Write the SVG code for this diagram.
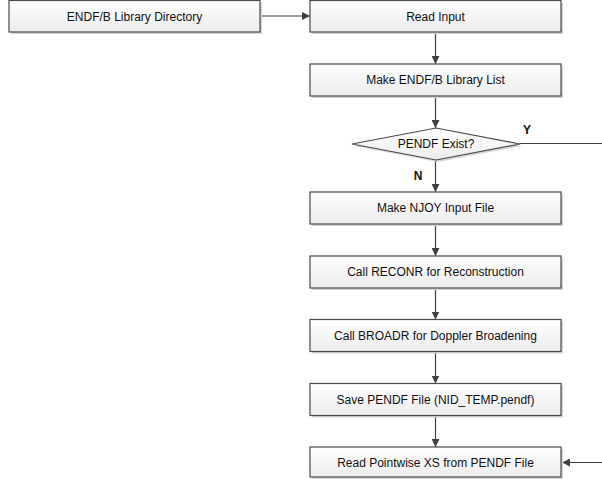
<svg xmlns="http://www.w3.org/2000/svg" width="602" height="479" viewBox="0 0 602 479">
<defs>
<linearGradient id="g" x1="0" y1="0" x2="0" y2="1">
<stop offset="0" stop-color="#ffffff"/>
<stop offset="1" stop-color="#ececec"/>
</linearGradient>
<marker id="arr" viewBox="0 0 10 10" refX="10" refY="5" markerWidth="8" markerHeight="8" markerUnits="userSpaceOnUse" orient="auto">
<path d="M0,0 L10,5 L0,10 Z" fill="#404040"/>
</marker>
</defs>
<style>
.box{fill:url(#g);stroke:#4a4a4a;stroke-width:1.2}
.sh{fill:#d6d6d6}
.t{font-family:"Liberation Sans",Arial,sans-serif;font-size:12px;fill:#111;text-anchor:middle}
.b{font-family:"Liberation Sans",Arial,sans-serif;font-size:12px;font-weight:bold;fill:#111;text-anchor:middle}
.c{fill:none;stroke:#404040;stroke-width:1.2}
</style>
<rect width="602" height="479" fill="#ffffff"/>
<g id="connectors">
<line class="c" x1="260" y1="16" x2="310" y2="16" marker-end="url(#arr)"/>
<line class="c" x1="435.5" y1="32" x2="435.5" y2="64" marker-end="url(#arr)"/>
<line class="c" x1="435.5" y1="96" x2="435.5" y2="128" marker-end="url(#arr)"/>
<line class="c" x1="520" y1="143.5" x2="602" y2="143.5"/>
<line class="c" x1="435.5" y1="160" x2="435.5" y2="192" marker-end="url(#arr)"/>
<line class="c" x1="435.5" y1="224" x2="435.5" y2="256" marker-end="url(#arr)"/>
<line class="c" x1="435.5" y1="288" x2="435.5" y2="319.5" marker-end="url(#arr)"/>
<line class="c" x1="435.5" y1="351.5" x2="435.5" y2="383.5" marker-end="url(#arr)"/>
<line class="c" x1="435.5" y1="415.5" x2="435.5" y2="447" marker-end="url(#arr)"/>
<line class="c" x1="602" y1="462.5" x2="562" y2="462.5" marker-end="url(#arr)"/>
<text class="b" x="527" y="134">Y</text>
<text class="b" x="418" y="180">N</text>
</g>
<g id="n0">
<rect class="sh" x="11" y="2.5" width="251" height="31.5"/>
<rect class="box" x="9" y="0.5" width="251" height="31.5"/>
<text class="t" x="134.5" y="20.5">ENDF/B Library Directory</text>
</g>
<g id="n1">
<rect class="sh" x="312" y="2.5" width="251" height="31.5"/>
<rect class="box" x="310" y="0.5" width="251" height="31.5"/>
<text class="t" x="435.5" y="20.5">Read Input</text>
</g>
<g id="n2">
<rect class="sh" x="312" y="66" width="251" height="32"/>
<rect class="box" x="310" y="64" width="251" height="32"/>
<text class="t" x="435.5" y="84">Make ENDF/B Library List</text>
</g>
<g id="n3">
<polygon class="sh" points="438,130 522,146 438,162 354,146"/>
<polygon class="box" points="436,128 520,144 436,160 352,144"/>
<text class="t" x="436" y="148">PENDF Exist?</text>
</g>
<g id="n4">
<rect class="sh" x="312" y="194" width="251" height="32"/>
<rect class="box" x="310" y="192" width="251" height="32"/>
<text class="t" x="435.5" y="212">Make NJOY Input File</text>
</g>
<g id="n5">
<rect class="sh" x="312" y="258" width="251" height="32"/>
<rect class="box" x="310" y="256" width="251" height="32"/>
<text class="t" x="435.5" y="276">Call RECONR for Reconstruction</text>
</g>
<g id="n6">
<rect class="sh" x="312" y="321.5" width="251" height="32"/>
<rect class="box" x="310" y="319.5" width="251" height="32"/>
<text class="t" x="435.5" y="339.5">Call BROADR for Doppler Broadening</text>
</g>
<g id="n7">
<rect class="sh" x="312" y="385.5" width="251" height="32"/>
<rect class="box" x="310" y="383.5" width="251" height="32"/>
<text class="t" x="435.5" y="403.5">Save PENDF File (NID_TEMP.pendf)</text>
</g>
<g id="n8">
<rect class="sh" x="312" y="449" width="251" height="30"/>
<rect class="box" x="310" y="447" width="251" height="30"/>
<text class="t" x="435.5" y="466.5">Read Pointwise XS from PENDF File</text>
</g>
</svg>
